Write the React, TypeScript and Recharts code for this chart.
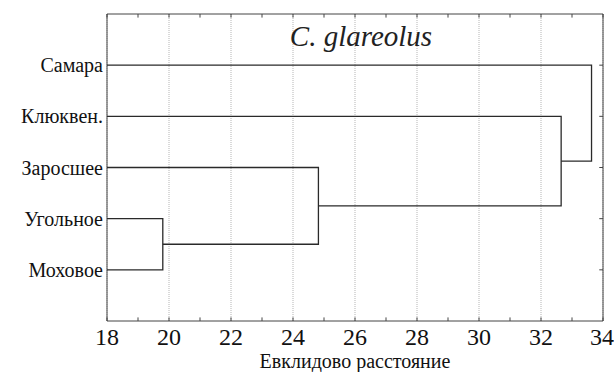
import React from "react";
import {
  LineChart,
  Line,
  XAxis,
  YAxis,
  CartesianGrid,
  ReferenceArea,
  ReferenceLine,
} from "recharts";

// Leaves of the dendrogram, top to bottom
const leaves = ["Самара", "Клюквен.", "Заросшее", "Угольное", "Моховое"];
// Merges: node indices (0-4 leaves, 5+ merged clusters in order)
const mergeA = [3, 2, 1, 0];
const mergeB = [4, 5, 6, 7];
const mergeHeights = [19.8, 24.82, 32.65, 33.63];

const xTicks = [18, 20, 22, 24, 26, 28, 30, 32, 34];
const xMinorTicks = [19, 21, 23, 25, 27, 29, 31, 33];
const xMin = 18;
const xMax = 34;
const yMin = 0;
const yMax = 6;

type P = { x: number; y: number };

function buildSegments(): P[][] {
  const nodes: P[] = leaves.map((_, i) => ({ x: xMin, y: i + 1 }));
  const segs: P[][] = [];
  mergeHeights.forEach((h, k) => {
    const A = nodes[mergeA[k]];
    const B = nodes[mergeB[k]];
    segs.push([
      { x: A.x, y: A.y },
      { x: h, y: A.y },
      { x: h, y: B.y },
      { x: B.x, y: B.y },
    ]);
    nodes.push({ x: h, y: (A.y + B.y) / 2 });
  });
  return segs;
}

const segments = buildSegments();

const serif = "Liberation Serif, DejaVu Serif, serif";

export default function App() {
  return (
    <div style={{ position: "absolute", left: 0, top: 0, width: 614, height: 372, background: "#fff" }}>
      <LineChart
        width={614}
        height={372}
        margin={{ top: 14, right: 11, bottom: 0, left: 0 }}
      >
        <CartesianGrid
          horizontal={false}
          stroke="#b5b5b5"
          strokeDasharray="1 1"
        />
        <XAxis
          type="number"
          dataKey="x"
          domain={[xMin, xMax]}
          ticks={xTicks}
          allowDataOverflow
          axisLine={false}
          tickLine={false}
          tickSize={7}
          tickMargin={0}
          height={51}
          tick={{ fontFamily: serif, fontSize: 24, fill: "#111" }}
          label={{
            value: "Евклидово расстояние",
            position: "insideBottom",
            offset: 4,
            style: { fontFamily: serif, fontSize: 20, fill: "#111" },
          }}
        />
        <YAxis
          type="number"
          dataKey="y"
          domain={[yMin, yMax]}
          reversed
          ticks={[1, 2, 3, 4, 5]}
          tickFormatter={(v: number) => leaves[v - 1] ?? ""}
          allowDataOverflow
          axisLine={false}
          tickLine={false}
          tickSize={4}
          tickMargin={0}
          width={107}
          tick={{ fontFamily: serif, fontSize: 20, fill: "#111" }}
        />
        <ReferenceArea
          x1={xMin}
          x2={xMax}
          y1={yMin}
          y2={yMax}
          fill="none"
          fillOpacity={0}
          stroke="#444"
          strokeWidth={1}
          ifOverflow="visible"
        />
        {xMinorTicks.concat(xTicks).map((t) => (
          <ReferenceLine
            key={"b" + t}
            segment={[
              { x: t, y: yMax },
              { x: t, y: yMax - 0.07 },
            ]}
            stroke="#444"
          />
        ))}
        {xMinorTicks.concat(xTicks).map((t) => (
          <ReferenceLine
            key={"t" + t}
            segment={[
              { x: t, y: yMin },
              { x: t, y: yMin + 0.07 },
            ]}
            stroke="#444"
          />
        ))}
        {leaves.map((_, i) => (
          <ReferenceLine
            key={"r" + i}
            segment={[
              { x: xMax, y: i + 1 },
              { x: xMax - 0.12, y: i + 1 },
            ]}
            stroke="#444"
          />
        ))}
        {segments.map((seg, i) => (
          <Line
            key={i}
            data={seg}
            dataKey="y"
            type="linear"
            stroke="#2a2a2a"
            strokeWidth={1.3}
            dot={false}
            activeDot={false}
            isAnimationActive={false}
          />
        ))}
      </LineChart>
      <div
        style={{
          position: "absolute",
          left: 0,
          width: 722,
          top: 18,
          textAlign: "center",
          fontFamily: serif,
          fontStyle: "italic",
          fontSize: 29,
          lineHeight: "36px",
          color: "#222",
          pointerEvents: "none",
        }}
      >
        C. glareolus
      </div>
    </div>
  );
}
